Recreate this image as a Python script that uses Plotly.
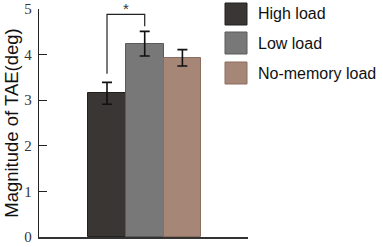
import plotly.graph_objects as go

categories = ["High load", "Low load", "No-memory load"]
means = [3.15, 4.24, 3.93]
errors = [0.24, 0.27, 0.18]
colors = ["#393634", "#787878", "#a68676"]
edge_colors = ["#222120", "#5a5a5a", "#8a6c60"]
yticks = [0, 1, 2, 3, 4, 5]
sig_bracket = {"left_low": 3.58, "top": 4.88, "right_low": 4.62}

fig = go.Figure()
for i, (cat, m, e) in enumerate(zip(categories, means, errors)):
    fig.add_trace(go.Bar(
        x=[i + 1], y=[m], width=1.0, name=cat,
        marker=dict(color=colors[i], line=dict(color=edge_colors[i], width=1)),
        error_y=dict(type="data", array=[e], color="#111111", thickness=1.6, width=5),
        showlegend=False,
    ))

# significance bracket
fig.add_shape(type="path",
              path=f"M 1 {sig_bracket['left_low']} L 1 {sig_bracket['top']} L 2 {sig_bracket['top']} L 2 {sig_bracket['right_low']}",
              xref="x", yref="y", line=dict(color="#222222", width=1.2))
fig.add_annotation(x=1.5, y=sig_bracket["top"], text="*", showarrow=False,
                   yanchor="bottom", yshift=-5, font=dict(family="Liberation Sans", size=15, color="#333"))

# custom legend (large squares)
W, H = 383, 247
L, R, T, B = 39, 248, 9, 237
leg_tops = [3, 32, 62]
for i, cat in enumerate(categories):
    y0 = leg_tops[i]
    fig.add_shape(type="rect", xref="paper", yref="paper",
                  x0=(225 - L) / (R - L), x1=(247 - L) / (R - L),
                  y0=1 - (y0 + 22 - T) / (B - T), y1=1 - (y0 - T) / (B - T),
                  fillcolor=colors[i], line=dict(color=edge_colors[i], width=1))
    fig.add_annotation(xref="paper", yref="paper",
                       x=(256 - L) / (R - L), y=1 - (y0 + 11 - T) / (B - T),
                       text=cat, showarrow=False, xanchor="left", yanchor="middle",
                       font=dict(family="Liberation Sans", size=16, color="#111"))

fig.update_layout(
    width=W, height=H,
    margin=dict(l=L, r=W - R, t=T, b=H - B, autoexpand=False),
    plot_bgcolor="white", paper_bgcolor="white",
    bargap=0,
)
fig.update_xaxes(range=[-0.804, 4.74], showticklabels=False, ticks="",
                 showgrid=False, zeroline=False, showline=True,
                 linecolor="#333333", linewidth=1.5, automargin=False)
fig.update_yaxes(range=[0, 5], tickvals=yticks, ticks="inside", ticklen=8,
                 tickcolor="#222", showgrid=False, zeroline=False,
                 showline=True, linecolor="#222", linewidth=1.3, automargin=False,
                 ticklabelstandoff=3, ticklabeloverflow="allow",
                 tickfont=dict(family="Liberation Serif", size=15, color="#333"),
                 title=dict(text="Magnitude of TAE(deg)", standoff=0,
                            font=dict(family="Liberation Sans", size=18.5, color="#111")))

fig.write_html("out.html", config={"displayModeBar": False},
               post_script="document.body.style.margin='0';document.body.style.overflow='hidden';")
